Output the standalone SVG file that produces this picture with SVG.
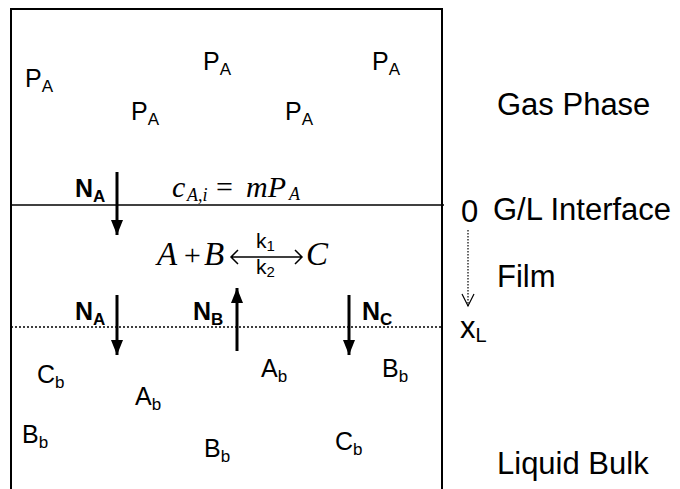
<svg xmlns="http://www.w3.org/2000/svg" width="680" height="489" viewBox="0 0 680 489">
<defs>
<style>
.t{font-family:"Liberation Sans",Arial,sans-serif;fill:#000}
.p{font-size:25px}
.s{font-size:17px}
.n{font-family:"Liberation Sans",Arial,sans-serif;font-weight:bold;font-size:25px}
.ns{font-size:17px}
.m{font-family:"Liberation Serif","Times New Roman",serif;font-style:italic;fill:#000}
.r{font-family:"Liberation Sans",Arial,sans-serif;font-size:31px;fill:#000}
.shaft{stroke:#000;stroke-width:3;fill:none}
</style>
<marker id="ah" viewBox="0 0 15 12" refX="15" refY="6" markerWidth="15" markerHeight="12" markerUnits="userSpaceOnUse" orient="auto">
<path d="M0,0 L15,6 L0,12 Z" fill="#000"/>
</marker>
</defs>
<rect width="680" height="489" fill="#fff"/>
<g id="box">
<path d="M11,500 V9 H442 V500" fill="none" stroke="#000" stroke-width="2"/>
<line x1="11" y1="205" x2="444" y2="205" stroke="#000" stroke-width="1.5"/>
<line x1="11" y1="327" x2="442" y2="327" stroke="#000" stroke-width="1.5" stroke-dasharray="2,2"/>
</g>
<g id="gas-species" class="t">
<text x="25" y="87" class="p">P<tspan class="s" dy="5">A</tspan></text>
<text x="203" y="70" class="p">P<tspan class="s" dy="5">A</tspan></text>
<text x="372" y="70" class="p">P<tspan class="s" dy="5">A</tspan></text>
<text x="131" y="120" class="p">P<tspan class="s" dy="5">A</tspan></text>
<text x="285" y="120" class="p">P<tspan class="s" dy="5">A</tspan></text>
</g>
<g id="equilibrium" class="m">
<text x="172" y="197" font-size="30">c</text>
<text x="187" y="201" font-size="18">A,i</text>
<text x="216" y="197" font-size="30" font-style="normal">=</text>
<text x="246" y="197" font-size="30">mP</text>
<text x="289" y="200" font-size="18">A</text>
</g>
<g id="reaction">
<text x="157" y="265" class="m" font-size="33">A</text>
<text x="182" y="265" class="m" font-size="30" font-style="normal">+</text>
<text x="204" y="265" class="m" font-size="33">B</text>
<path d="M231,257 H302 M238,250 L231,257 L238,264 M295,250 L302,257 L295,264" fill="none" stroke="#000" stroke-width="1.5"/>
<text x="256" y="248" class="t" font-size="21">k<tspan font-size="15" dy="3">1</tspan></text>
<text x="256" y="274" class="t" font-size="21">k<tspan font-size="15" dy="3">2</tspan></text>
<text x="306" y="265" class="m" font-size="33">C</text>
</g>
<g id="fluxes">
<text x="75" y="197" class="n">N<tspan class="ns" dy="5">A</tspan></text>
<text x="75" y="320" class="n">N<tspan class="ns" dy="5">A</tspan></text>
<text x="193" y="320" class="n">N<tspan class="ns" dy="5">B</tspan></text>
<text x="362" y="320" class="n">N<tspan class="ns" dy="5">C</tspan></text>
</g>
<g id="connectors">
<line x1="117" y1="172" x2="117" y2="235" class="shaft" marker-end="url(#ah)"/>
<line x1="117" y1="295" x2="117" y2="355" class="shaft" marker-end="url(#ah)"/>
<line x1="237" y1="351" x2="237" y2="288" class="shaft" marker-end="url(#ah)"/>
<line x1="349" y1="295" x2="349" y2="355" class="shaft" marker-end="url(#ah)"/>
<line x1="468" y1="230" x2="468" y2="306" stroke="#000" stroke-width="1.2" stroke-dasharray="1.5,1.5"/>
<path d="M462,294 L468,306 L474,294" fill="none" stroke="#000" stroke-width="1.2"/>
</g>
<g id="bulk-species" class="t">
<text x="37" y="383" class="p">C<tspan class="s" dy="5">b</tspan></text>
<text x="135" y="405" class="p">A<tspan class="s" dy="5">b</tspan></text>
<text x="261" y="377" class="p">A<tspan class="s" dy="5">b</tspan></text>
<text x="382" y="377" class="p">B<tspan class="s" dy="5">b</tspan></text>
<text x="22" y="443" class="p">B<tspan class="s" dy="5">b</tspan></text>
<text x="204" y="457" class="p">B<tspan class="s" dy="5">b</tspan></text>
<text x="335" y="450" class="p">C<tspan class="s" dy="5">b</tspan></text>
</g>
<g id="labels">
<text x="497" y="115" class="r">Gas Phase</text>
<text x="461" y="222" class="r" font-size="28">0</text>
<text x="493" y="220" class="r">G/L Interface</text>
<text x="497" y="287" class="r">Film</text>
<text x="460" y="338" class="r">x<tspan font-size="20" dy="4">L</tspan></text>
<text x="497" y="474" class="r">Liquid Bulk</text>
</g>
</svg>
